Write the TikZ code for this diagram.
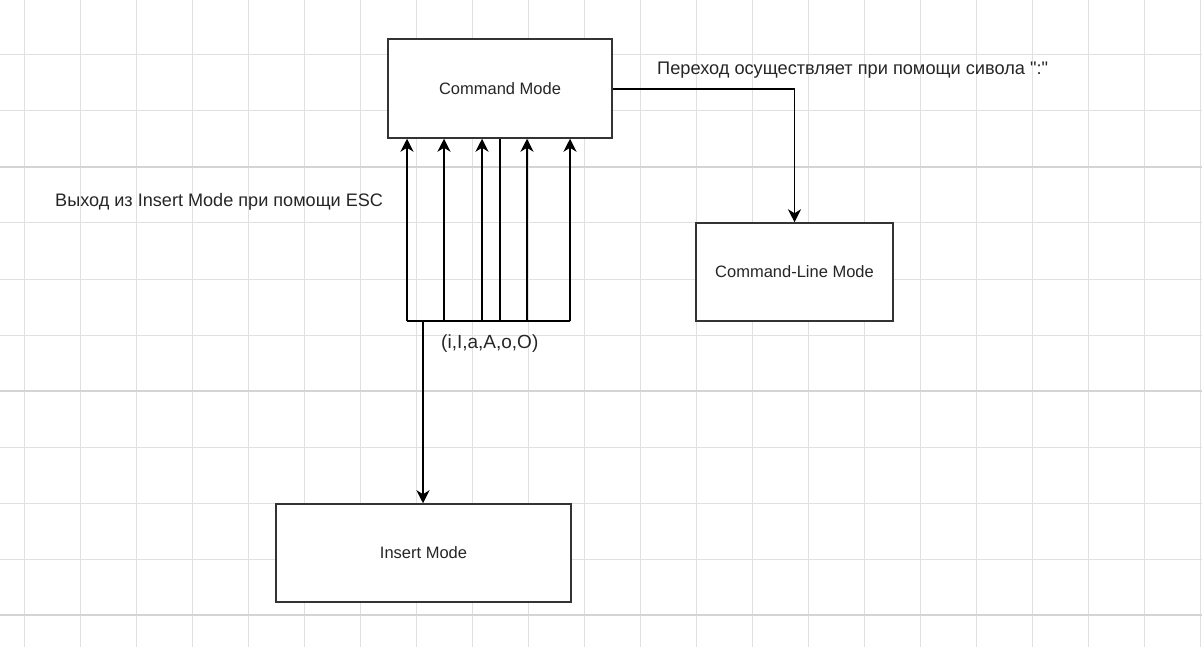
\documentclass[tikz,border=0pt]{standalone}
\usepackage{fontspec}
\setmainfont{Liberation Sans}[Ligatures=TeXOff]
\usetikzlibrary{arrows.meta}
\begin{document}
\begin{tikzpicture}[x=1pt,y=-1pt,
  box/.style={draw=black!80, line width=1.5pt, fill=white, inner sep=0pt,
    font=\fontsize{16.5}{20}\selectfont, text=black!85},
  conn/.style={draw=black, line width=1.3pt},
  tip/.style={-{Stealth[length=13pt,width=13pt,inset=4pt]}},
  lbl/.style={inner sep=0pt, anchor=base west, text=black!85},
  minorgrid/.style={draw=black!12, line width=1pt},
  majorgrid/.style={draw=black!17, line width=1.4pt}]
\useasboundingbox (0,0) rectangle (1202,647);
\fill[white] (0,0) rectangle (1202,647);
% grid
\foreach \gx in {24,80,...,1200} \draw[minorgrid] (\gx,0) -- (\gx,647);
\foreach \gy in {55,111,223,279,335,447,503,559} \draw[minorgrid] (0,\gy) -- (1202,\gy);
\foreach \gy in {167,391,615} \draw[majorgrid] (0,\gy) -- (1202,\gy);
% boxes
\node[box, minimum width=224pt, minimum height=99pt] (cmd) at (500,88.5) {Command Mode};
\node[box, minimum width=197pt, minimum height=98pt] (cl) at (794.5,272) {Command-Line Mode};
\node[box, minimum width=295pt, minimum height=98pt] (ins) at (423.5,553) {Insert Mode};
% bar coordinates
\coordinate (b1) at (407,321);
\coordinate (b2) at (444,321);
\coordinate (b3) at (482,321);
\coordinate (bm) at (500,321);
\coordinate (b4) at (527,321);
\coordinate (b5) at (570,321);
\coordinate (j) at (423,321);
% connectors
\draw[conn,tip] (cmd.east |- 0,89) -| (cl.north);
\draw[conn] (b1) -- (b5);
\foreach \b in {b1,b2,b3,b4,b5} \draw[conn,tip] (\b) -- (\b |- cmd.south);
\draw[conn] (bm) -- (bm |- cmd.south);
\draw[conn,line width=2pt,tip] (j) -- (j |- ins.north);
% labels
\node[lbl, font=\fontsize{18.1}{21}\selectfont] (l1) at (55,207) {Выход из Insert Mode при помощи ESC};
\node[lbl, font=\fontsize{18.2}{21}\selectfont] (l2) at (657,75) {Переход осуществляет при помощи сивола ":"};
\node[lbl, font=\fontsize{19}{22}\selectfont] (l3) at (441,348) {(i,I,a,A,o,O)};
\end{tikzpicture}
\end{document}
